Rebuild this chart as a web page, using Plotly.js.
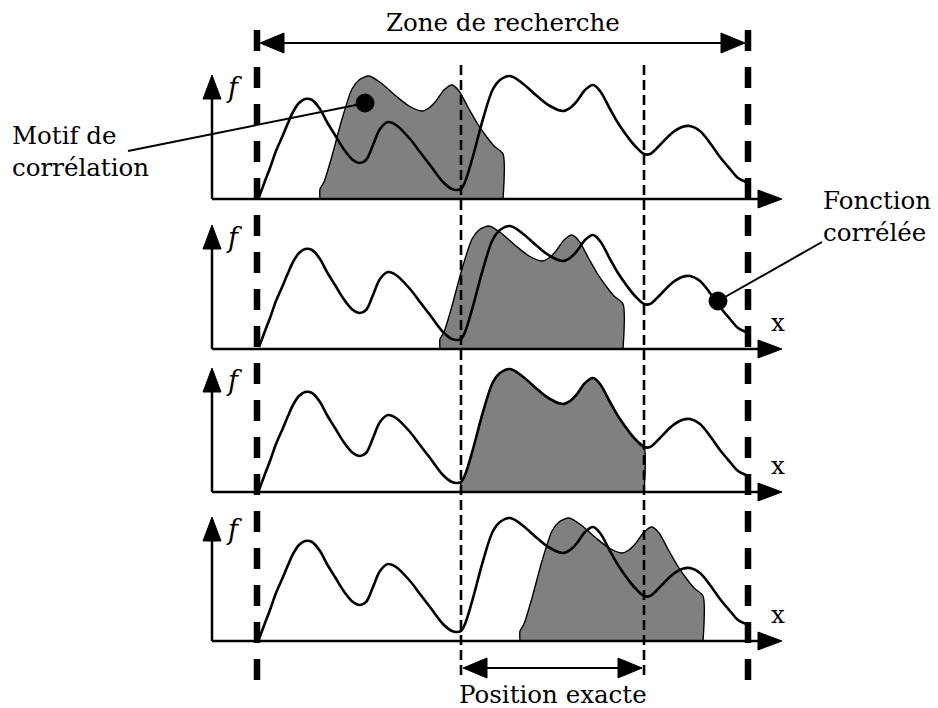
<!DOCTYPE html>
<html><head><meta charset="utf-8">
<script src="https://cdn.plot.ly/plotly-3.0.1.min.js"></script>
<style>html,body{margin:0;padding:0;background:#fff}#chart{width:938px;height:708px}</style>
</head><body><div id="chart"></div>
<script>
// ---- data ----
const curveX = [259,265,270,276,283,288,293,299,305,312,320,327,335,343,353,360,366,373,380,388,396,410,420,430,443,452,457,461,465,473,483,493,500,510,522,537,550,563,570,577,585,593,600,610,618,627,635,644,650,660,672,682,690,700,710,720,730,738,746];
const curveH = [2,18,31,48,64,76,87,96,100,99,90,77,64,51,39,36,39,54,70,77,74,60,47,34,17,10,9,10,17,43,80,110,119,123,116,103,93,88,91,98,109,114,108,90,76,63,53,45,45,54,66,72,73,68,56,42,30,21,17];
const patternStart = 461;
const patternEnd = 644;
const patternShift = [-141, -21, 0, 59];
const panelLabelsX = ["", "x", "x", "x"];
const zoneLabel = "Zone de recherche";
const positionLabel = "Position exacte";
const motifLabel = "Motif de<br>corrélation";
const fonctionLabel = "Fonction<br>corrélée";
const yLabel = "f";

// ---- layout constants ----
const baselines = [199, 349, 492, 641];
const axisLeft = 212, axisTip = 782, yAxisLen = 124;
const zoneL = 257, zoneR = 748;
const FONT = "DejaVu Serif, Liberation Serif, serif";
const FS = 24.5;

const traces = [];
const shapes = [];
const annotations = [];

function tri(tx, ty, dir, len, half) {
  let p;
  if (dir === 'up') p = `M${tx},${ty} L${tx-half},${ty+len} L${tx+half},${ty+len} Z`;
  else if (dir === 'right') p = `M${tx},${ty} L${tx-len},${ty-half} L${tx-len},${ty+half} Z`;
  else p = `M${tx},${ty} L${tx+len},${ty-half} L${tx+len},${ty+half} Z`;
  return {type:'path', path:p, xref:'x', yref:'y', fillcolor:'#000', line:{color:'#000', width:1}, layer:'above'};
}
function seg(x0,y0,x1,y1,w,dash){
  return {type:'line', x0, y0, x1, y1, xref:'x', yref:'y', line:{color:'#000', width:w, dash:dash||'solid'}, layer:'above'};
}

baselines.forEach((b, i) => {
  const px = [], py = [];
  const s = patternShift[i];
  px.push(patternStart + s); py.push(b);
  curveX.forEach((x, k) => {
    if (x >= patternStart && x <= patternEnd) { px.push(x + s); py.push(b - curveH[k]); }
  });
  px.push(patternEnd + s); py.push(b);
  traces.push({x:px, y:py, type:'scatter', mode:'lines', fill:'toself', fillcolor:'#808080',
    line:{color:'#000', width:1.4, shape:'spline', smoothing:0.7}, hoverinfo:'skip', showlegend:false});
  traces.push({x:curveX, y:curveH.map(h => b - h), type:'scatter', mode:'lines',
    line:{color:'#000', width:2.6, shape:'spline', smoothing:1}, hoverinfo:'skip', showlegend:false});
  shapes.push(seg(axisLeft, b, axisTip - 20, b, 2.5));
  shapes.push(seg(axisLeft, b, axisLeft, b - yAxisLen + 20, 2.5));
  shapes.push(tri(axisTip, b, 'right', 24, 9));
  shapes.push(tri(axisLeft, b - yAxisLen, 'up', 24, 9));
  annotations.push({x: 234, y: b - yAxisLen + 12, xref:'x', yref:'y', text: yLabel, showarrow:false,
    font:{family:FONT, size:27, color:'#000', style:'italic'}, xanchor:'center', yanchor:'middle'});
  if (panelLabelsX[i]) annotations.push({x: 778, y: b - 27, xref:'x', yref:'y', text: panelLabelsX[i], showarrow:false,
    font:{family:FONT, size:FS, color:'#000'}, xanchor:'center', yanchor:'middle'});
});

shapes.push(seg(zoneL, 30, zoneL, 682, 6.5, '21px,16px'));
shapes.push(seg(zoneR, 30, zoneR, 682, 6.5, '21px,16px'));
shapes.push(seg(patternStart, 65, patternStart, 680, 2.6, '10px,5px'));
shapes.push(seg(patternEnd, 65, patternEnd, 680, 2.6, '10px,5px'));

shapes.push(seg(zoneL + 20, 43, zoneR - 20, 43, 2.2));
shapes.push(tri(zoneL + 3, 43, 'left', 24, 10));
shapes.push(tri(zoneR - 3, 43, 'right', 24, 10));
annotations.push({x:(zoneL+zoneR)/2, y:22, xref:'x', yref:'y', text:zoneLabel, showarrow:false,
  font:{family:FONT, size:FS, color:'#000'}, xanchor:'center', yanchor:'middle'});

shapes.push(seg(patternStart + 20, 668, patternEnd - 20, 668, 2.2));
shapes.push(tri(patternStart + 2, 668, 'left', 24, 10));
shapes.push(tri(patternEnd - 2, 668, 'right', 24, 10));
annotations.push({x:(patternStart+patternEnd)/2, y:694, xref:'x', yref:'y', text:positionLabel, showarrow:false,
  font:{family:FONT, size:FS, color:'#000'}, xanchor:'center', yanchor:'middle'});

shapes.push(seg(128, 151, 366, 103, 2));
shapes.push({type:'circle', xref:'x', yref:'y', x0:356, y0:94, x1:374, y1:112, fillcolor:'#000', line:{color:'#000', width:1}, layer:'above'});
annotations.push({x:10, y:151, xref:'x', yref:'y', text:motifLabel, showarrow:false, align:'left',
  font:{family:FONT, size:FS, color:'#000'}, xanchor:'left', yanchor:'middle'});
shapes.push(seg(822, 242, 718, 301, 2));
shapes.push({type:'circle', xref:'x', yref:'y', x0:709, y0:292, x1:727, y1:310, fillcolor:'#000', line:{color:'#000', width:1}, layer:'above'});
annotations.push({x:821, y:216, xref:'x', yref:'y', text:fonctionLabel, showarrow:false, align:'left',
  font:{family:FONT, size:FS, color:'#000'}, xanchor:'left', yanchor:'middle'});

const layout = {
  width:938, height:708, margin:{l:0, r:0, t:0, b:0},
  paper_bgcolor:'#fff', plot_bgcolor:'#fff', showlegend:false,
  xaxis:{range:[0,938], visible:false, fixedrange:true},
  yaxis:{range:[708,0], visible:false, fixedrange:true},
  shapes, annotations
};
Plotly.newPlot('chart', traces, layout, {displayModeBar:false, staticPlot:true});
</script></body></html>
